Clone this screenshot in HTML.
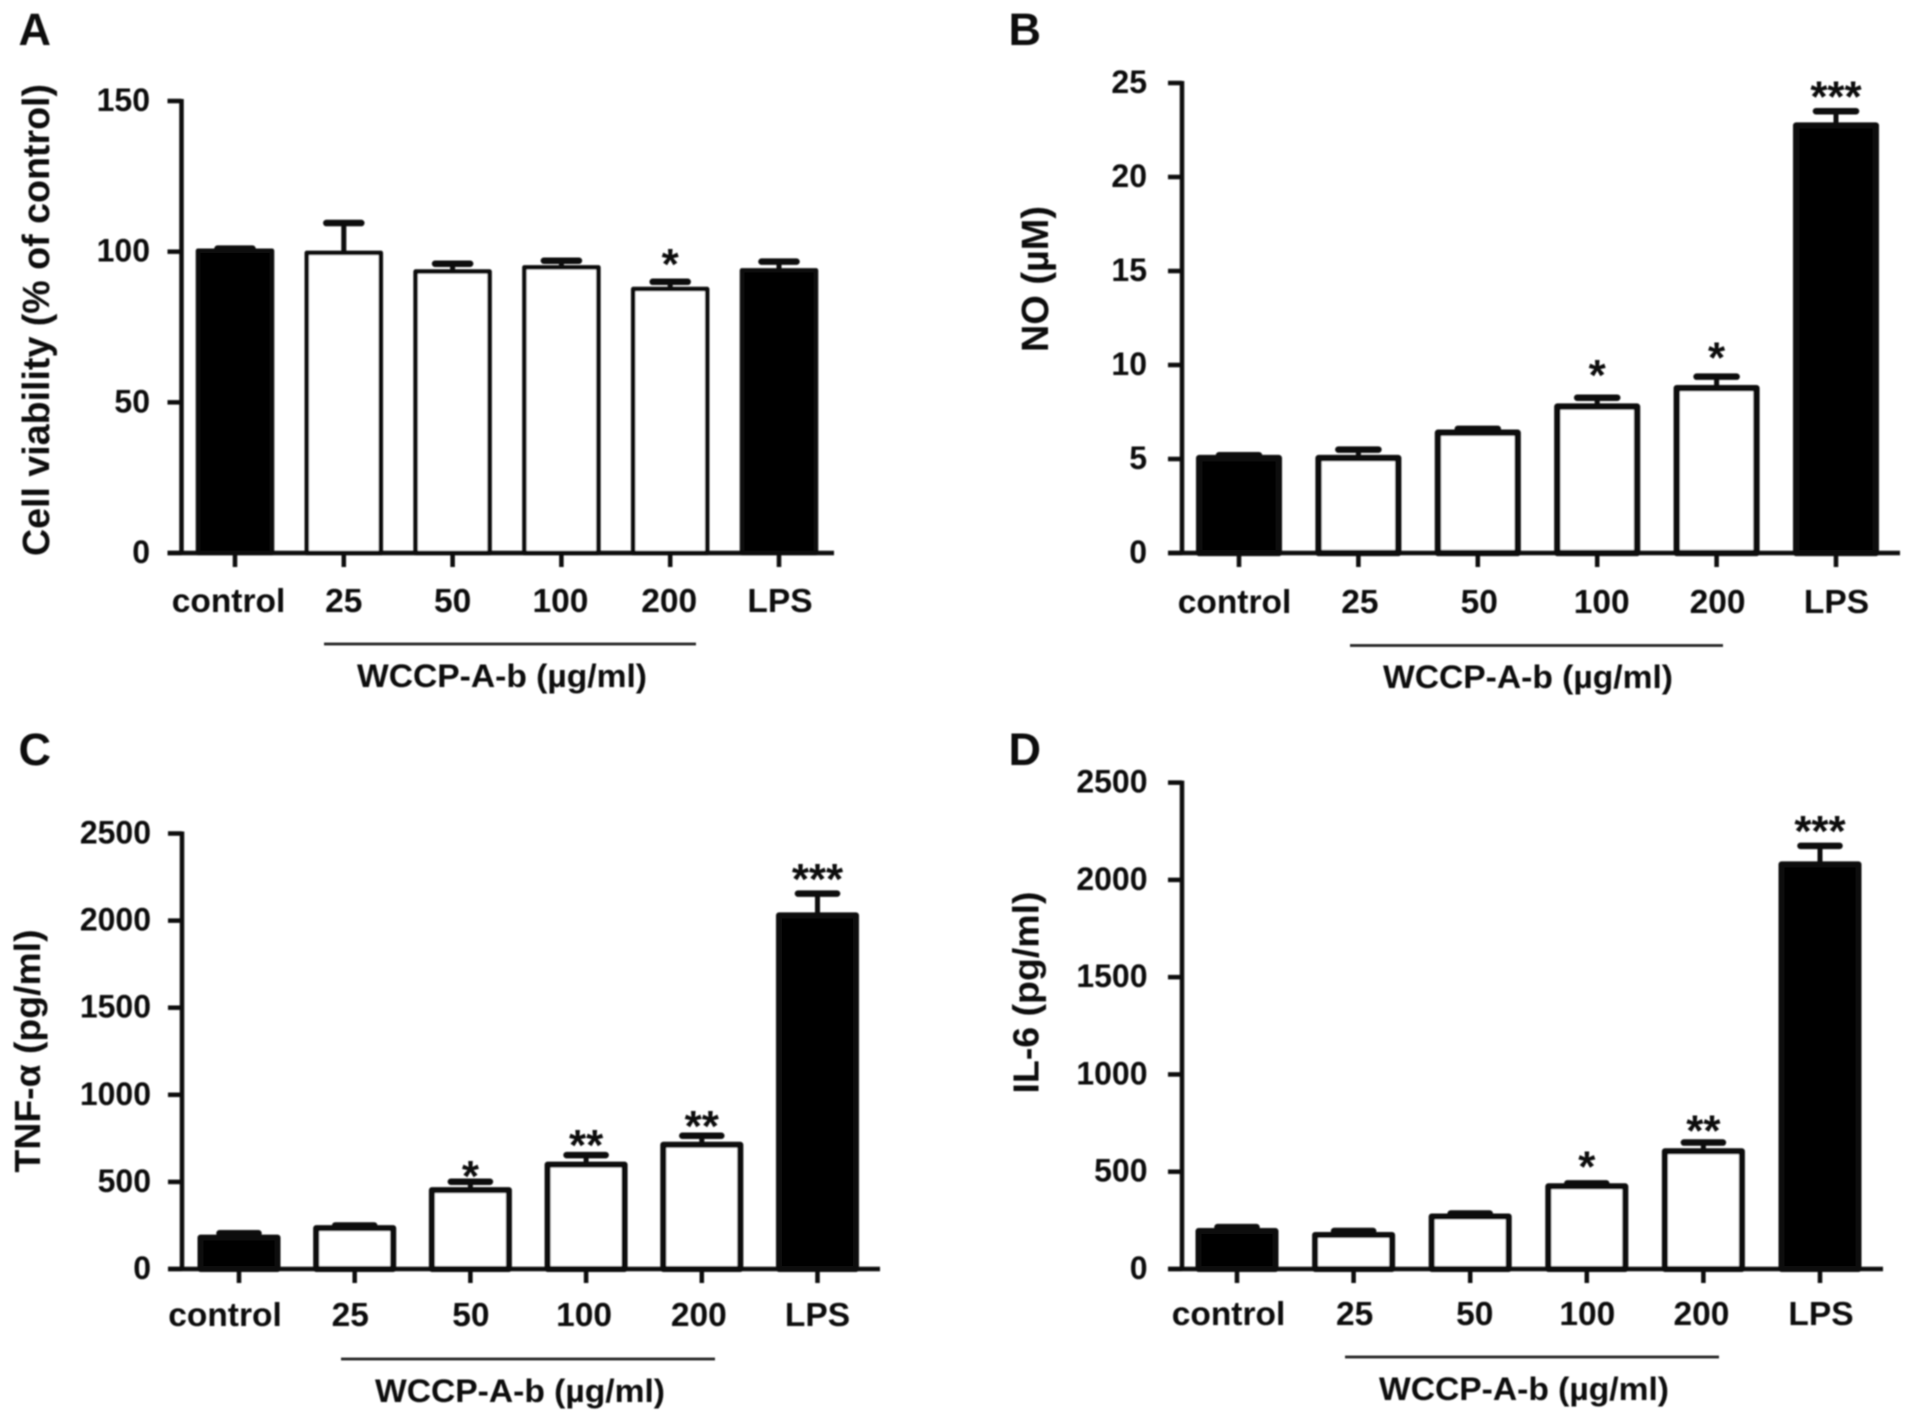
<!DOCTYPE html>
<html lang="en">
<head>
<meta charset="utf-8">
<title>WCCP-A-b bar charts</title>
<style>
html,body{margin:0;padding:0;background:#fff;}
#figure{display:block;width:1913px;height:1420px;background:#fff;}
text{font-family:"Liberation Sans",sans-serif;font-weight:bold;fill:#111;}
</style>
</head>
<body>
<svg id="figure" xmlns="http://www.w3.org/2000/svg" width="1913" height="1420" viewBox="0 0 1913 1420">
<defs><filter id="soft" x="0" y="0" width="1913" height="1420" filterUnits="userSpaceOnUse" primitiveUnits="userSpaceOnUse"><feGaussianBlur stdDeviation="0.8"/></filter></defs>
<g id="root" filter="url(#soft)"></g>
</svg>
<script>
// ---- data ----
const categories = ["control", "25", "50", "100", "200", "LPS"];

const viabilityValues = [100.3, 99.6, 93.4, 94.8, 87.6, 93.8];
const viabilityErrorTops = [101, 109.5, 96, 97, 90, 96.7];
const viabilityStars = ["", "", "", "", "*", ""];
const viabilityTicks = [0, 50, 100, 150];

const noValues = [5.05, 5.05, 6.4, 7.79, 8.77, 22.74];
const noErrorTops = [5.2, 5.5, 6.6, 8.26, 9.38, 23.5];
const noStars = ["", "", "", "*", "*", "***"];
const noTicks = [0, 5, 10, 15, 20, 25];

const tnfValues = [180, 235, 453, 599, 713, 2030];
const tnfErrorTops = [205, 250, 501, 654, 765, 2155];
const tnfStars = ["", "", "*", "**", "**", "***"];
const tnfTicks = [0, 500, 1000, 1500, 2000, 2500];

const il6Values = [195, 175, 270, 425, 605, 2080];
const il6ErrorTops = [215, 195, 285, 440, 650, 2175];
const il6Stars = ["", "", "", "*", "**", "***"];
const il6Ticks = [0, 500, 1000, 1500, 2000, 2500];

// ---- panel layout ----
const panels = [
  {id:"a", letter:"A", lx:18.5, ly:45, values:viabilityValues, errs:viabilityErrorTops, stars:viabilityStars, ticks:viabilityTicks,
   axisX:181.5, xEnd:834, zeroY:553, topY:101, firstTick:235, lastTick:779, barW:74, stroke:4.5, capHalf:17.5, starGap:[0,0,0,0,25,0],
   title:"Cell viability (% of control)", titleX:49, titleC:320, titleLen:472, titleFont:38,
   tickRight:150, labelY:612, nudge:[-6.5,0,0,-1,-1,1],
   lineX1:324, lineX2:696, lineY:644, noteX:502, noteY:687},
  {id:"b", letter:"B", lx:1008.5, ly:45, values:noValues, errs:noErrorTops, stars:noStars, ticks:noTicks,
   axisX:1182, xEnd:1900, zeroY:553, topY:83, firstTick:1239, lastTick:1836, barW:79.7, stroke:6.3, capHalf:20, starGap:[0,0,0,29.7,26,21.7],
   title:"NO (µM)", titleX:1048, titleC:279, titleLen:146, titleFont:38,
   tickRight:1147, labelY:613, nudge:[-4.5,1.5,1.5,4.5,1,0.5],
   lineX1:1350, lineX2:1723, lineY:645.5, noteX:1528, noteY:688},
  {id:"c", letter:"C", lx:18.5, ly:765, values:tnfValues, errs:tnfErrorTops, stars:tnfStars, ticks:tnfTicks,
   axisX:182, xEnd:880, zeroY:1269, topY:833.5, firstTick:239, lastTick:817.5, barW:77, stroke:6, capHalf:19.5, starGap:[0,0,12.7,17.3,16.7,21.5],
   title:"TNF-α (pg/ml)", titleX:40, titleC:1051, titleLen:243, titleFont:36,
   tickRight:151, labelY:1326, nudge:[-14,-4.5,0.5,-2,-3,0],
   lineX1:341, lineX2:715, lineY:1359, noteX:520, noteY:1402},
  {id:"d", letter:"D", lx:1008.5, ly:765, values:il6Values, errs:il6ErrorTops, stars:il6Stars, ticks:il6Ticks,
   axisX:1182, xEnd:1883, zeroY:1269, topY:782.6, firstTick:1237, lastTick:1820, barW:77, stroke:6, capHalf:19.5, starGap:[0,0,0,24,19,22],
   title:"IL-6 (pg/ml)", titleX:1038.5, titleC:992.5, titleLen:202, titleFont:36,
   tickRight:1147.5, labelY:1325, nudge:[-8.5,1,4.5,0.5,-2,1],
   lineX1:1345, lineX2:1719, lineY:1357, noteX:1524, noteY:1400}
];

const SVGNS = "http://www.w3.org/2000/svg";
const root = document.getElementById("root");

function shape(parent, tag, attrs, content) {
  const node = document.createElementNS(SVGNS, tag);
  for (const k in attrs) node.setAttribute(k, attrs[k]);
  if (content !== undefined) node.textContent = content;
  parent.appendChild(node);
  return node;
}

panels.forEach(function (p) {
  const g = shape(root, "g", {});
  
  

  const maxTick = p.ticks[p.ticks.length - 1];
  const yScale = function (v) { return p.zeroY - (v / maxTick) * (p.zeroY - p.topY); };
  const xScale = function (i) { return p.firstTick + i * (p.lastTick - p.firstTick) / (categories.length - 1); };

  const letter = shape(g, "text", {x:p.lx, y:p.ly, "font-size":45}, p.letter);
  
  

  // bars + error bars + stars
  categories.forEach(function (cat, i) {
    const cx = xScale(i);
    const yTop = yScale(p.values[i]);
    const yErr = yScale(p.errs[i]);

    const errStem = shape(g, "line", {x1:cx, x2:cx, y1:yTop, y2:yErr, stroke:"#0a0a0a", "stroke-width":5});
    
    

    const errCap = shape(g, "line", {x1:cx - p.capHalf, x2:cx + p.capHalf, y1:yErr, y2:yErr, stroke:"#0a0a0a", "stroke-width":6.5, "stroke-linecap":"round"});
    
    

    const filled = (i === 0 || i === categories.length - 1);
    const bar = shape(g, "rect", {x:cx - p.barW / 2, y:yTop, width:p.barW, height:p.zeroY - yTop,
      fill: filled ? "#050505" : "#fff", stroke:"#0a0a0a", "stroke-width":p.stroke, "stroke-linejoin":"round"});
    
    

    if (p.stars[i]) {
      const star = shape(g, "text", {x:cx, y:yErr - p.starGap[i] + 22, "font-size":44, "text-anchor":"middle"}, p.stars[i]);
      
      
    }

    const tick = shape(g, "line", {x1:cx, x2:cx, y1:p.zeroY, y2:p.zeroY + 14, stroke:"#0a0a0a", "stroke-width":4.5});
    
    

    const label = shape(g, "text", {x:cx + p.nudge[i], y:p.labelY, "font-size":33.5, "text-anchor":"middle"}, cat);
    
    
  });

  // axes
  const yAxis = shape(g, "line", {x1:p.axisX, x2:p.axisX, y1:p.topY - 2, y2:p.zeroY + 2, stroke:"#0a0a0a", "stroke-width":4.5});
  
  

  const xAxis = shape(g, "line", {x1:p.axisX - 14, x2:p.xEnd, y1:p.zeroY, y2:p.zeroY, stroke:"#0a0a0a", "stroke-width":4.5});
  
  

  p.ticks.forEach(function (t) {
    const y = yScale(t);
    const yTick = shape(g, "line", {x1:p.axisX - 14, x2:p.axisX, y1:y, y2:y, stroke:"#0a0a0a", "stroke-width":4.5});
    
    

    const yLabel = shape(g, "text", {x:p.tickRight, y:y + 10, "font-size":32, "text-anchor":"end"}, String(t));
    
    
  });

  // y-axis title
  const title = shape(g, "text", {transform:"translate(" + p.titleX + "," + p.titleC + ") rotate(-90)",
    "font-size":p.titleFont, "text-anchor":"middle", textLength:p.titleLen, lengthAdjust:"spacingAndGlyphs"}, p.title);
  
  

  // treatment group bracket + note
  const groupLine = shape(g, "line", {x1:p.lineX1, x2:p.lineX2, y1:p.lineY, y2:p.lineY, stroke:"#222", "stroke-width":2.8});
  
  

  const note = shape(g, "text", {x:p.noteX, y:p.noteY, "font-size":32, "text-anchor":"middle", textLength:290, lengthAdjust:"spacingAndGlyphs"}, "WCCP-A-b (µg/ml)");
  
  
});
</script>
</body>
</html>
